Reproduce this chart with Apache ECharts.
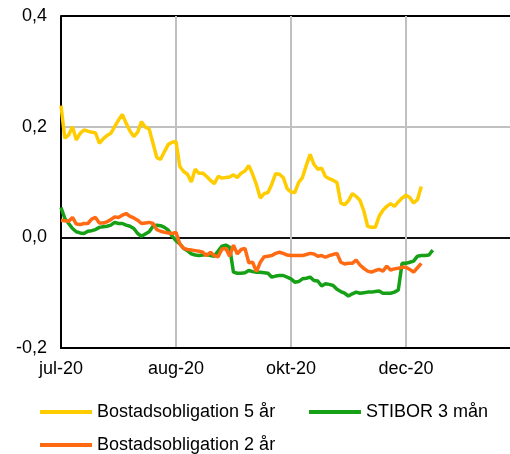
<!DOCTYPE html>
<html>
<head>
<meta charset="utf-8">
<script src="https://cdn.jsdelivr.net/npm/echarts@6/dist/echarts.min.js"></script>
<style>html,body{margin:0;padding:0;background:#fff}#c{width:510px;height:454px}</style>
</head>
<body>
<div id="c"></div>
<script>
const tickLabels = ['jul-20', 'aug-20', 'okt-20', 'dec-20'];
const pointsPerTick = 30;
const visibleTicks = 3.905; // tick intervals visible across the plot width
const seriesNames = ['Bostadsobligation 5 år', 'STIBOR 3 mån', 'Bostadsobligation 2 år'];

const bostad5 = [0.238,0.179,0.185,0.200,0.176,0.188,0.194,0.192,0.190,0.189,
  0.170,0.178,0.184,0.188,0.200,0.212,0.222,0.206,0.192,0.182,
  0.190,0.209,0.199,0.196,0.170,0.144,0.141,0.155,0.168,0.172,
  0.173,0.128,0.119,0.114,0.100,0.123,0.116,0.116,0.110,0.103,
  0.097,0.110,0.107,0.108,0.109,0.113,0.108,0.116,0.120,0.130,
  0.114,0.095,0.071,0.079,0.081,0.096,0.115,0.114,0.108,0.088,
  0.082,0.081,0.099,0.108,0.130,0.150,0.132,0.123,0.125,0.110,
  0.106,0.103,0.099,0.062,0.059,0.066,0.079,0.074,0.067,0.048,
  0.020,0.018,0.018,0.038,0.049,0.056,0.061,0.056,0.064,0.071,
  0.076,0.072,0.062,0.068,0.092];

const stibor3 = [0.054,0.034,0.025,0.016,0.010,0.008,0.007,0.011,0.012,0.014,
  0.018,0.019,0.020,0.022,0.027,0.025,0.025,0.022,0.020,0.016,
  0.007,0.002,0.006,0.010,0.020,0.022,0.021,0.018,0.013,0.002,
  -0.006,-0.012,-0.020,-0.024,-0.030,-0.032,-0.033,-0.032,-0.031,-0.033,
  -0.034,-0.025,-0.016,-0.014,-0.018,-0.063,-0.065,-0.065,-0.064,-0.060,
  -0.062,-0.063,-0.063,-0.064,-0.065,-0.072,-0.070,-0.069,-0.069,-0.072,
  -0.075,-0.081,-0.080,-0.075,-0.074,-0.072,-0.078,-0.079,-0.088,-0.084,
  -0.085,-0.087,-0.094,-0.098,-0.101,-0.106,-0.102,-0.099,-0.101,-0.100,
  -0.099,-0.099,-0.098,-0.097,-0.101,-0.101,-0.101,-0.099,-0.095,-0.047,
  -0.047,-0.045,-0.043,-0.034,-0.033,-0.033,-0.032,-0.023];

const bostad2 = [0.031,0.030,0.029,0.036,0.024,0.023,0.025,0.025,0.033,0.036,
  0.026,0.026,0.028,0.032,0.037,0.036,0.040,0.043,0.038,0.035,
  0.031,0.025,0.026,0.027,0.025,0.014,0.011,0.009,0.008,0.007,
  0.009,-0.012,-0.020,-0.022,-0.023,-0.024,-0.025,-0.027,-0.033,-0.027,
  -0.033,-0.035,-0.021,-0.020,-0.034,-0.014,-0.030,-0.022,-0.020,-0.046,
  -0.045,-0.062,-0.045,-0.035,-0.034,-0.033,-0.029,-0.027,-0.029,-0.032,
  -0.033,-0.033,-0.033,-0.033,-0.031,-0.029,-0.030,-0.034,-0.033,-0.036,
  -0.033,-0.031,-0.029,-0.045,-0.048,-0.047,-0.047,-0.041,-0.050,-0.056,
  -0.061,-0.063,-0.060,-0.058,-0.061,-0.052,-0.059,-0.057,-0.056,-0.054,
  -0.054,-0.058,-0.063,-0.055,-0.047];

const toPairs = arr => arr.map((v, i) => [i, v]);
const colors = ['#ffcc00', '#16a016', '#ff6a13'];
const font = 'Liberation Sans, Arial, sans-serif';
const fs = 18;

const chart = echarts.init(document.getElementById('c'), null, {renderer: 'canvas'});
chart.setOption({
  animation: false,
  backgroundColor: '#fff',
  grid: {left: 61, top: 16, bottom: 106, right: 0, containLabel: false},
  xAxis: {
    type: 'value',
    min: 0, max: pointsPerTick * visibleTicks, interval: pointsPerTick,
    axisLine: {onZero: false, lineStyle: {color: '#000', width: 2}},
    axisTick: {show: false},
    axisLabel: {color: '#000', fontSize: fs, fontFamily: font, margin: 12,
      showMaxLabel: false,
      formatter: v => (v % pointsPerTick === 0 && tickLabels[v / pointsPerTick]) || ''},
    splitLine: {show: true, lineStyle: {color: ['#c0c0c0', '#c0c0c0', '#c0c0c0', '#c0c0c0', 'rgba(0,0,0,0)'], width: 2}}
  },
  yAxis: {
    type: 'value',
    min: -0.2, max: 0.4, interval: 0.2,
    axisLine: {show: true, lineStyle: {color: '#000', width: 2}},
    axisTick: {show: false},
    axisLabel: {color: '#000', fontSize: fs, fontFamily: font, margin: 14,
      formatter: v => v.toFixed(1).replace('.', ',')},
    splitLine: {show: true, lineStyle: {color: ['#000', '#111', '#c0c0c0', '#000'], width: 2}}
  },
  legend: [
    {data: [seriesNames[0]], left: 40, top: 403},
    {data: [seriesNames[1]], left: 309, top: 403},
    {data: [seriesNames[2]], left: 40, top: 436}
  ].map(l => Object.assign(l, {
    icon: 'rect', itemWidth: 52, itemHeight: 4, padding: 0,
    textStyle: {color: '#000', fontSize: fs, fontFamily: font}
  })),
  series: [
    {name: seriesNames[0], type: 'line', data: toPairs(bostad5), color: colors[0]},
    {name: seriesNames[1], type: 'line', data: toPairs(stibor3), color: colors[1]},
    {name: seriesNames[2], type: 'line', data: toPairs(bostad2), color: colors[2]}
  ].map(s => Object.assign(s, {showSymbol: false, symbol: 'none', lineStyle: {width: 3.5}}))
});
</script>
</body>
</html>
